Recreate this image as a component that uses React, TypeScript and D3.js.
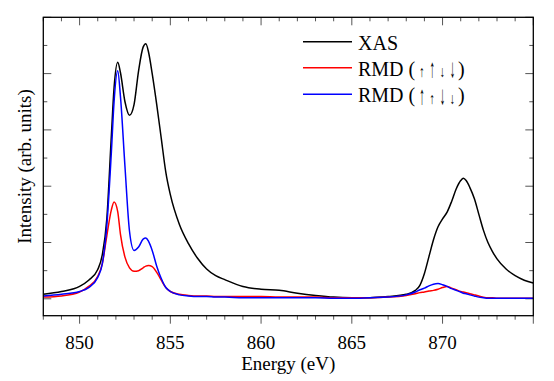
import React from "react";
import * as d3 from "d3";

// photon energy grid (eV)
const energy = [
  848, 849, 850, 850.5, 851, 851.25, 851.5, 851.75, 851.9, 852.1,
  852.25, 852.5, 852.75, 853, 853.25, 853.5, 853.65, 853.8, 854, 854.25,
  854.5, 854.75, 855, 855.5, 856, 856.5, 857, 857.5, 858, 859,
  860, 861, 862, 863, 864, 865, 866, 867, 868, 868.5,
  868.75, 869, 869.25, 869.5, 869.75, 870, 870.25, 870.5, 870.75, 871,
  871.15, 871.3, 871.5, 871.75, 872, 872.25, 872.5, 872.75, 873, 873.5,
  874, 874.5, 875,
];

const xas = [
  0.08, 0.13, 0.22, 0.33, 0.52, 0.78, 1.42, 2.9, 3.75, 4.2,
  4.02, 3.5, 3.26, 3.45, 4.05, 4.47, 4.53, 4.38, 4.0, 3.45,
  2.85, 2.25, 1.85, 1.32, 0.98, 0.72, 0.53, 0.41, 0.34, 0.22,
  0.17, 0.15, 0.1, 0.06, 0.03, 0.02, 0.02, 0.04, 0.08, 0.15,
  0.24, 0.45, 0.75, 1.05, 1.28, 1.42, 1.54, 1.73, 1.95, 2.1,
  2.14, 2.1, 1.98, 1.78, 1.5, 1.22, 1.0, 0.84, 0.71, 0.53,
  0.41, 0.33, 0.28,
];

// RMD (small up, big up, small down, big down)
const rmdRed = [
  0.03, 0.05, 0.12, 0.22, 0.4, 0.62, 1.12, 1.58, 1.72, 1.55,
  1.15, 0.74, 0.55, 0.49, 0.5, 0.55, 0.58, 0.59, 0.57, 0.47,
  0.33, 0.2, 0.13, 0.08, 0.06, 0.05, 0.05, 0.04, 0.04, 0.04,
  0.04, 0.03, 0.03, 0.03, 0.02, 0.02, 0.02, 0.03, 0.06, 0.09,
  0.11, 0.12, 0.14, 0.15, 0.17, 0.2, 0.22, 0.19, 0.16, 0.13,
  0.12, 0.11, 0.09, 0.07, 0.05, 0.03, 0.02, 0.02, 0.01, 0.01,
  0.01, 0.01, 0.01,
];

// RMD (big up, small up, big down, small down)
const rmdBlue = [
  0.05, 0.08, 0.13, 0.2, 0.38, 0.62, 1.3, 2.6, 3.5, 4.05,
  3.6, 2.35, 1.2, 0.86, 0.92, 1.06, 1.08, 1.02, 0.86, 0.58,
  0.36, 0.2, 0.13, 0.07, 0.05, 0.04, 0.04, 0.03, 0.03, 0.02,
  0.02, 0.02, 0.02, 0.02, 0.01, 0.01, 0.02, 0.03, 0.07, 0.12,
  0.16, 0.19, 0.23, 0.26, 0.27, 0.25, 0.22, 0.18, 0.15, 0.12,
  0.1, 0.09, 0.07, 0.05, 0.03, 0.02, 0.01, 0.01, 0.01, 0.01,
  0.01, 0.01, 0.01,
];

const legendNames = ["XAS", "RMD (", "RMD ("];
const redSpins = ["s↑", "b↑", "s↓", "b↓"];
const blueSpins = ["b↑", "s↑", "b↓", "s↓"];

const xTicks = d3.range(848, 876, 1);
const xLabels = [850, 855, 860, 865, 870];
const yTicks = d3.range(0, 5.01, 0.5);

const W = 554;
const H = 381;
const left = 43.3, right = 533.3, top = 17.3, bottom = 315.7;
const serif = '"Liberation Serif", "Times New Roman", Times, serif';

function Spins({ spins, y, shift }: { spins: string[]; y: number; shift: number }) {
  const xs = [422, 432.2, 442.4, 452.6];
  return (
    <g>
      {spins.map((s, i) => {
        const big = s[0] === "b";
        const sy = big ? 1.3 : 0.78;
        return (
          <text
            key={i}
            transform={`translate(${xs[i]},${y + shift}) scale(0.55,${sy})`}
            textAnchor="middle"
            fontSize={20}
            style={{ fontFamily: serif, fill: "#000" }}
          >
            {s[1]}
          </text>
        );
      })}
      <text x={458} y={y} fontSize={20} style={{ fontFamily: serif, fill: "#000" }}>)</text>
    </g>
  );
}

export default function App() {
  const x = d3.scaleLinear().domain([848, 875]).range([left, right]);
  const y = d3.scaleLinear().domain([-0.3, 5]).range([bottom, top]);

  const line = d3
    .line<number>()
    .curve(d3.curveMonotoneX)
    .x((_, i) => x(energy[i]))
    .y((d) => y(d));

  const series = [
    { values: xas, color: "#000000" },
    { values: rmdRed, color: "#ff0000" },
    { values: rmdBlue, color: "#0000ff" },
  ];

  const tickColor = "#555";
  const txt = { fontFamily: serif, fill: "#000" };
  const legendY = [41.7, 67.7, 94.3];

  return (
    <svg width={W} height={H} style={{ position: "absolute", left: 0, top: 0 }}>
      <rect x={0} y={0} width={W} height={H} fill="#fff" />
      <defs>
        <clipPath id="plot">
          <rect x={left} y={top} width={right - left} height={bottom - top} />
        </clipPath>
      </defs>

      {/* ticks */}
      {xTicks.map((t) => {
        const major = t % 5 === 0;
        const len = major ? 8 : 4;
        return (
          <g key={"x" + t} stroke={tickColor} strokeWidth={1}>
            <line x1={x(t)} x2={x(t)} y1={bottom} y2={bottom + len} />
            <line x1={x(t)} x2={x(t)} y1={top} y2={top + len} />
          </g>
        );
      })}
      {yTicks.map((t) => {
        const major = Math.abs(t - Math.round(t)) < 1e-6;
        const len = major ? 8 : 4;
        return (
          <g key={"y" + t} stroke={tickColor} strokeWidth={1}>
            <line x1={left} x2={left + len} y1={y(t)} y2={y(t)} />
            <line x1={right} x2={right - len} y1={y(t)} y2={y(t)} />
          </g>
        );
      })}

      {/* spectra */}
      <g clipPath="url(#plot)">
        {series.map((s, i) => (
          <path key={i} d={line(s.values) || ""} fill="none" stroke={s.color} strokeWidth={1.5} />
        ))}
      </g>

      <rect x={left} y={top} width={right - left} height={bottom - top} fill="none" stroke="#000" strokeWidth={1.3} />

      {/* tick labels */}
      {xLabels.map((t) => (
        <text key={"l" + t} x={x(t)} y={349} textAnchor="middle" fontSize={19} style={txt}>
          {t}
        </text>
      ))}

      <text x={(left + right) / 2} y={370} textAnchor="middle" fontSize={19} style={txt}>
        Energy (eV)
      </text>
      <text
        transform={`translate(31, ${(top + bottom) / 2}) rotate(-90)`}
        textAnchor="middle"
        fontSize={19}
        style={txt}
      >
        Intensity (arb. units)
      </text>

      {/* legend */}
      <g>
        {series.map((s, i) => (
          <g key={"lg" + i}>
            <line x1={303} x2={352} y1={legendY[i]} y2={legendY[i]} stroke={s.color} strokeWidth={1.5} />
            <text x={358} y={legendY[i] + 8} fontSize={20} style={txt}>
              {legendNames[i]}
            </text>
          </g>
        ))}
        <Spins spins={redSpins} y={legendY[1] + 8} shift={1} />
        <Spins spins={blueSpins} y={legendY[2] + 8} shift={2} />
      </g>
    </svg>
  );
}
